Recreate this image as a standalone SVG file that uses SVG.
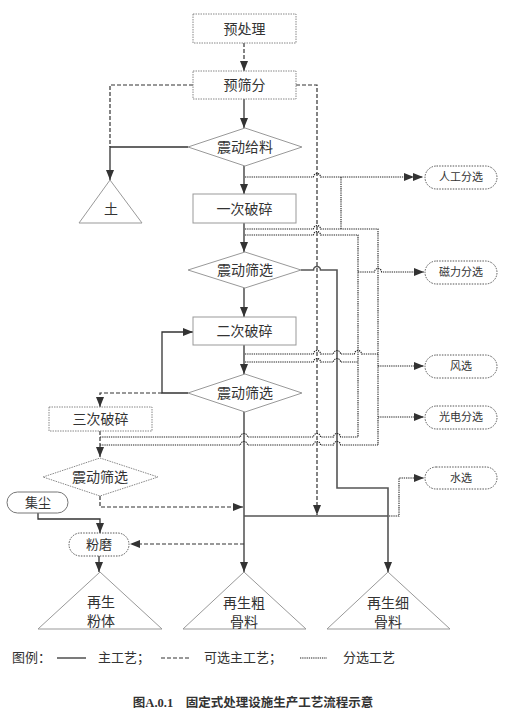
<svg xmlns="http://www.w3.org/2000/svg" width="510" height="720" viewBox="0 0 510 720">
<style>
  text { font-family: "Liberation Serif", "Noto Sans CJK SC", serif; fill: #333; text-anchor: middle; }
  .t14 { font-size: 14px; }
  .t13 { font-size: 13px; }
  .t11 { font-size: 11px; }
  .box { fill: #fff; stroke: #999; stroke-width: 1; }
  .dbox { fill: #fff; stroke: #888; stroke-width: 1; stroke-dasharray: 1.5 1; }
  .pill { fill: #fff; stroke: #555; stroke-width: 1; stroke-dasharray: 1.5 1.2; }
  .solid { fill: none; stroke: #333; stroke-width: 1.3; }
  .gray { fill: none; stroke: #555; stroke-width: 1.6; }
  .dash { fill: none; stroke: #333; stroke-width: 1.2; stroke-dasharray: 4 2; }
  .dot { fill: none; stroke: #222; stroke-width: 1.1; stroke-dasharray: 1.3 0.9; }
</style>
<defs>
  <marker id="arr" markerUnits="userSpaceOnUse" markerWidth="10" markerHeight="8" refX="10" refY="4" orient="auto">
    <path d="M0,0 L10,4 L0,8 Z" fill="#333" stroke="none"/>
  </marker>
</defs>
<rect width="510" height="720" fill="#fff"/>

<g id="connectors">
  <!-- main solid flow -->
  <path class="solid" d="M244 99 V128" marker-end="url(#arr)"/>
  <path class="solid" d="M188 147 H110 V180" marker-end="url(#arr)"/>
  <path class="solid" d="M244 166 V194" marker-end="url(#arr)"/>
  <path class="solid" d="M244 223 V252" marker-end="url(#arr)"/>
  <path class="solid" d="M244 288 V317" marker-end="url(#arr)"/>
  <path class="solid" d="M244 345 V374" marker-end="url(#arr)"/>
  <path class="solid" d="M244 412 V572" marker-end="url(#arr)"/>
  <path class="solid" d="M188 393 H162 V332 H193" marker-end="url(#arr)"/>
  <path class="gray" d="M301 270 H313.5 A3.5 3.5 0 0 1 320.5 270 H337 V488 H388 V572" marker-end="url(#arr)"/>
  <path class="gray" d="M244 516 H388"/>
  <path class="solid" d="M38 513 V519 H100 V533" marker-end="url(#arr)"/>
  <path class="solid" d="M99 556 V572" marker-end="url(#arr)"/>

  <!-- optional dashed flow -->
  <path class="dash" d="M244 43 V71" marker-end="url(#arr)"/>
  <path class="dash" d="M193 85 H110 V147"/>
  <path class="dash" d="M296 85 H317 V515" marker-end="url(#arr)"/>
  <path class="dash" d="M162 393 H100 V407" marker-end="url(#arr)"/>
  <path class="dash" d="M100 431 V457" marker-end="url(#arr)"/>
  <path class="dash" d="M100 496 V507 H243" marker-end="url(#arr)"/>
  <path class="dash" d="M244 544 H130" marker-end="url(#arr)"/>

  <!-- sorting dotted lines -->
  <path class="dot" d="M245 177 H313.5 A3.5 3.5 0 0 1 320.5 177 H414" marker-end="url(#arr)"/>
  <path class="dot" d="M414 177 H423" marker-end="url(#arr)"/>
  <path class="dot" d="M341 229 V177"/>
  <path class="dot" d="M245 229 H313.5 A3.5 3.5 0 0 1 320.5 229 H378 V445"/>
  <path class="dot" d="M245 235 H313.5 A3.5 3.5 0 0 1 320.5 235 H358 V437"/>
  <path class="dot" d="M358 272 H374.5 A3.5 3.5 0 0 1 381.5 272 H424" marker-end="url(#arr)"/>
  <path class="dot" d="M245 354 H313.5 A3.5 3.5 0 0 1 320.5 354 H333.5 A3.5 3.5 0 0 1 340.5 354 H354.5 A3.5 3.5 0 0 1 361.5 354 H378"/>
  <path class="dot" d="M245 362 H313.5 A3.5 3.5 0 0 1 320.5 362 H333.5 A3.5 3.5 0 0 1 340.5 362 H358"/>
  <path class="dot" d="M378 366 H424" marker-end="url(#arr)"/>
  <path class="dot" d="M378 417 H424" marker-end="url(#arr)"/>
  <path class="dot" d="M100 437 H240.5 A3.5 3.5 0 0 1 247.5 437 H313.5 A3.5 3.5 0 0 1 320.5 437 H333.5 A3.5 3.5 0 0 1 340.5 437 H358"/>
  <path class="dot" d="M100 445 H240.5 A3.5 3.5 0 0 1 247.5 445 H313.5 A3.5 3.5 0 0 1 320.5 445 H333.5 A3.5 3.5 0 0 1 340.5 445 H378"/>
  <path class="dot" d="M389 516 H399 V478 H424" marker-end="url(#arr)"/>
</g>

<g id="n-yuchuli"><rect class="dbox" x="193" y="14" width="103" height="29"/><text class="t14" x="244.5" y="33.5">预处理</text></g>
<g id="n-yushaifen"><rect class="dbox" x="193" y="71" width="103" height="28"/><text class="t14" x="244.5" y="90">预筛分</text></g>
<g id="n-geiliao"><polygon class="box" points="188,147 245,128 302,147 245,166"/><text class="t14" x="245" y="152">震动给料</text></g>
<g id="n-tu"><polygon class="box" points="110,180 142,223 79,223"/><text class="t14" x="111" y="214">土</text></g>
<g id="n-posui1"><rect class="box" x="193" y="194" width="103" height="29"/><text class="t14" x="244.5" y="213.5">一次破碎</text></g>
<g id="n-shaixuan1"><polygon class="box" points="188,270 245,252 301,270 245,288"/><text class="t14" x="245" y="275">震动筛选</text></g>
<g id="n-posui2"><rect class="box" x="193" y="317" width="103" height="28"/><text class="t14" x="244.5" y="336">二次破碎</text></g>
<g id="n-shaixuan2"><polygon class="box" points="188,393 245,374 302,393 245,412"/><text class="t14" x="245" y="398">震动筛选</text></g>
<g id="n-posui3"><rect class="dbox" x="49" y="407" width="103" height="24"/><text class="t14" x="100.5" y="424">三次破碎</text></g>
<g id="n-shaixuan3"><polygon class="dbox" points="43,477 100,458 158,477 100,496"/><text class="t14" x="100" y="482">震动筛选</text></g>
<g id="n-jichen"><rect x="7" y="492" width="61" height="21" rx="10.5" fill="#fff" stroke="#777" stroke-width="1"/><text class="t13" x="38" y="507">集尘</text></g>
<g id="n-fenmo"><rect class="pill" x="69" y="533" width="60" height="23" rx="11.5"/><text class="t13" x="99" y="549">粉磨</text></g>

<g id="n-rengong"><rect class="pill" x="425" y="166" width="72" height="23" rx="11.5"/><text class="t11" x="461" y="181">人工分选</text></g>
<g id="n-cili"><rect class="pill" x="425" y="261" width="72" height="23" rx="11.5"/><text class="t11" x="461" y="276">磁力分选</text></g>
<g id="n-fengxuan"><rect class="pill" x="425" y="355" width="72" height="23" rx="11.5"/><text class="t11" x="461" y="370">风选</text></g>
<g id="n-guangdian"><rect class="pill" x="425" y="406" width="72" height="23" rx="11.5"/><text class="t11" x="461" y="421">光电分选</text></g>
<g id="n-shuixuan"><rect class="pill" x="425" y="467" width="72" height="22" rx="11"/><text class="t11" x="461" y="482">水选</text></g>

<g id="n-fenti"><polygon class="box" points="100,572 162,629 38,629"/><text class="t14" x="101" y="607">再生</text><text class="t14" x="101" y="626">粉体</text></g>
<g id="n-cuguliao"><polygon class="box" points="244,572 306,629 183,629"/><text class="t14" x="244" y="608">再生粗</text><text class="t14" x="244" y="627">骨料</text></g>
<g id="n-xiguliao"><polygon class="box" points="388,572 450,629 327,629"/><text class="t14" x="388" y="608">再生细</text><text class="t14" x="388" y="627">骨料</text></g>

<g id="legend">
  <text class="t13" x="12" y="662" style="text-anchor:start">图例：</text>
  <path class="solid" d="M57 658 H86"/>
  <text class="t13" x="98" y="662" style="text-anchor:start">主工艺；</text>
  <path class="dash" d="M161 658 H191"/>
  <text class="t13" x="204" y="662" style="text-anchor:start">可选主工艺；</text>
  <path class="dot" d="M300 658 H327"/>
  <text class="t13" x="343" y="662" style="text-anchor:start">分选工艺</text>
</g>
<text x="253" y="707" style="font-size:12.5px;font-weight:bold">图A.0.1　固定式处理设施生产工艺流程示意</text>
</svg>
